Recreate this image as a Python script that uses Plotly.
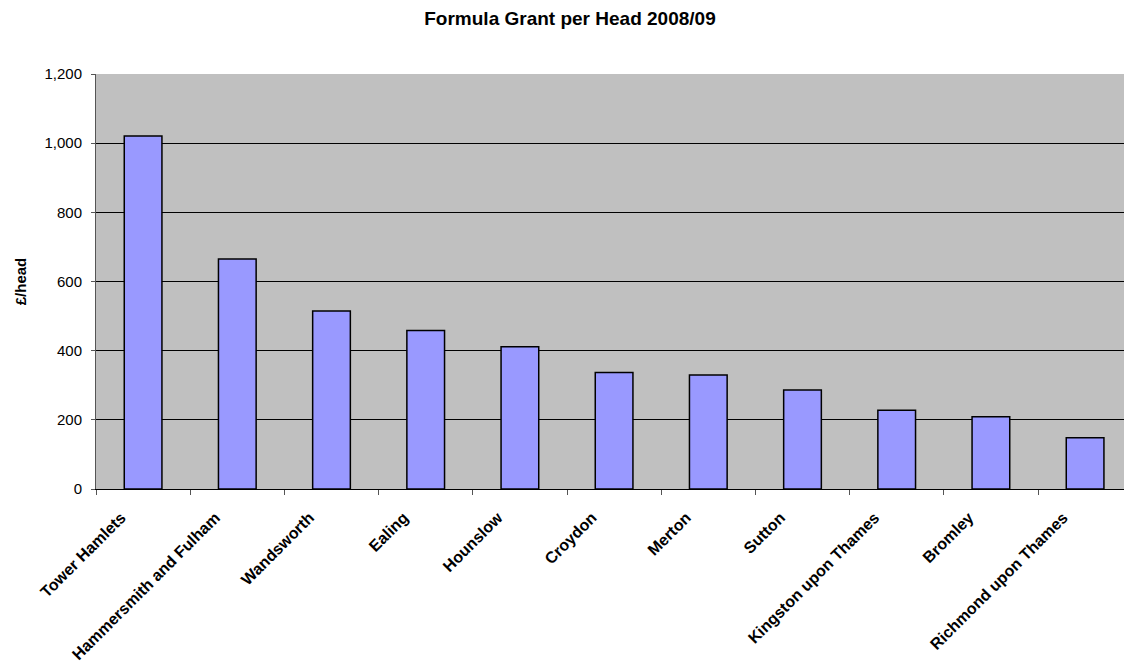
import plotly.graph_objects as go

boroughs = ["Tower Hamlets", "Hammersmith and Fulham", "Wandsworth", "Ealing", "Hounslow",
            "Croydon", "Merton", "Sutton", "Kingston upon Thames", "Bromley", "Richmond upon Thames"]
grant_per_head = [1021, 665, 515, 458, 411, 337, 330, 286, 228, 209, 148]
y_ticks = [0, 200, 400, 600, 800, 1000, 1200]

FONT = "Arial, Liberation Sans, sans-serif"

fig = go.Figure()
fig.add_trace(go.Bar(
    x=boroughs, y=grant_per_head, width=0.4,
    marker=dict(color="#9999FF", line=dict(color="black", width=1.5)),
))

fig.update_layout(
    width=1124, height=672,
    margin=dict(l=96, r=0, t=74, b=183),
    paper_bgcolor="white", plot_bgcolor="#C0C0C0",
    showlegend=False,
    font=dict(family=FONT, size=15, color="black"),
    title=dict(text="<b>Formula Grant per Head 2008/09</b>", font=dict(family=FONT, size=19),
               x=570/1124, xref="container", xanchor="center",
               y=1-18/672, yref="container", yanchor="middle"),
)
fig.update_xaxes(
    type="category", range=[-0.5, -0.5 + 1028/94.2],
    tickangle=-45, tickfont=dict(family=FONT, size=16, weight="bold"),
    showgrid=False, showline=True, linecolor="black", linewidth=1,
    ticks="outside", tickson="boundaries", ticklen=5, tickcolor="#555555",
    ticklabelshift=-22, ticklabelstandoff=12,
)
fig.update_yaxes(
    range=[0, 1200], tickvals=y_ticks, tickformat=",",
    showgrid=True, gridcolor="black", gridwidth=1,
    showline=True, linecolor="#555555", linewidth=1,
    ticks="outside", ticklen=4, tickcolor="#555555",
    ticklabelstandoff=6, zeroline=False,
    title=dict(text="<b>£/head</b>", font=dict(family=FONT, size=15), standoff=14),
)

fig.write_html("out.html")
